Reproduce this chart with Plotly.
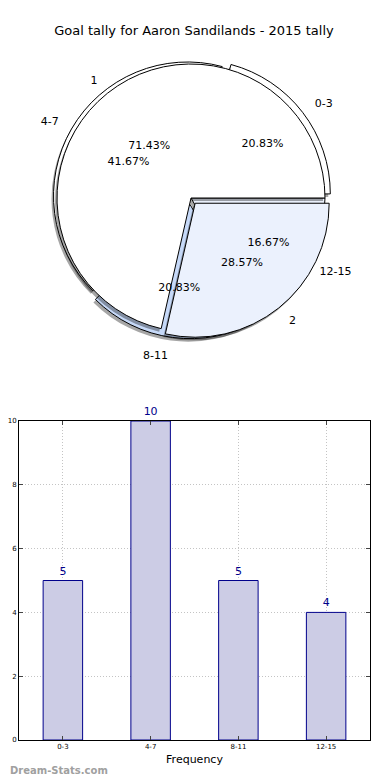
import plotly.graph_objects as go

# Data
intervals = ["0-3", "4-7", "8-11", "12-15"]
interval_counts = [5, 10, 5, 4]
group_labels = ["1", "2"]
group_counts = [5, 2]
bar_categories = ["0-3", "4-7", "8-11", "12-15"]
bar_values = [5, 10, 5, 4]

W, H = 390, 780
FONT = "DejaVu Sans"
OFF = 8  # page body margin

def px_x(x):
    return (x - OFF) / W

def px_y(y):
    return (H - (y - OFF)) / H

# pie geometry (screen px)
cx, cy, R = 191, 198, 134
maxpull = 0.05

def dom(dx=0, dy=0, scale=1.0):
    half = R * scale * (1 + maxpull)
    return dict(x=[px_x(cx + dx - half), px_x(cx + dx + half)],
                y=[px_y(cy + dy + half), px_y(cy + dy - half)])

fig = go.Figure()

# slices laid out counterclockwise from 3 o'clock (matplotlib style):
# reversed order drawn clockwise from 3 o'clock gives the same picture
rev = lambda a: list(a)[::-1]
common = dict(sort=False, direction="clockwise", rotation=90,
              hoverinfo="skip", showlegend=False)

pull_int = [0.05, 0.03, 0.05, 0.0]
pull_grp = [0.0, 0.05]
TF = dict(family=FONT, size=11, color="#000000")
CLEAR = "rgba(0,0,0,0)"
SHADOW = "rgba(0,0,0,0.35)"

# shadows
fig.add_trace(go.Pie(labels=rev(intervals), values=rev(interval_counts),
                     marker=dict(colors=[SHADOW] * 4, line=dict(width=0)),
                     pull=rev(pull_int), textinfo="none", domain=dom(-2, 3), **common))
# outer pie (intervals)
fig.add_trace(go.Pie(labels=rev(intervals), values=rev(interval_counts),
                     marker=dict(colors=rev(["#ffffff", "#ffffff", "#c6d9f8", "#eaf0fc"]),
                                 line=dict(color="#000000", width=1)),
                     pull=rev(pull_int), textinfo="none", domain=dom(), **common))
# shadow of group pie
fig.add_trace(go.Pie(labels=rev(group_labels), values=rev(group_counts),
                     marker=dict(colors=[SHADOW] * 2, line=dict(width=0)),
                     pull=rev(pull_grp), textinfo="none", domain=dom(-2, 3), **common))
# inner pie (groups)
fig.add_trace(go.Pie(labels=rev(group_labels), values=rev(group_counts),
                     marker=dict(colors=rev(["#ffffff", "#ebf1fd"]),
                                 line=dict(color="#000000", width=1)),
                     pull=rev(pull_grp), textinfo="none", domain=dom(), **common))

# text layers (transparent)
for labs, vals, pulls in [(intervals, interval_counts, pull_int), (group_labels, group_counts, pull_grp)]:
    n = len(labs)
    fig.add_trace(go.Pie(labels=rev(labs), values=rev(vals),
                         marker=dict(colors=[CLEAR] * n, line=dict(width=0)),
                         pull=rev(pulls), texttemplate="%{percent:.2%}",
                         textposition="inside", insidetextorientation="horizontal",
                         textfont=TF, domain=dom(), **common))
    fig.add_trace(go.Pie(labels=rev(labs), values=rev(vals),
                         marker=dict(colors=[CLEAR] * n, line=dict(width=0)),
                         pull=rev(pulls), texttemplate="%{label}", textposition="outside",
                         textfont=TF, outsidetextfont=TF, domain=dom(scale=1.08), **common))

# bar chart
fig.add_trace(go.Bar(x=list(range(len(bar_categories))), y=bar_values, width=0.45,
                     marker=dict(color="#ccccE5", line=dict(color="#00008b", width=1)),
                     text=[str(v) for v in bar_values], textposition="outside",
                     textfont=dict(family=FONT, size=11, color="#00008b"),
                     cliponaxis=False, showlegend=False, hoverinfo="skip"))

grid = dict(showgrid=True, gridcolor="#c4c4c4", griddash="1px,2px", gridwidth=1)
fig.update_layout(
    width=W, height=H, margin=dict(l=0, r=0, t=0, b=0),
    paper_bgcolor="white", plot_bgcolor="white",
    font=dict(family=FONT, color="#000000"),
    title=dict(text="Goal tally for Aaron Sandilands - 2015 tally", x=px_x(194), xanchor="center",
               y=px_y(30), yanchor="middle", font=dict(family=FONT, size=13, color="#000000")),
    xaxis=dict(domain=[px_x(19), px_x(370)], range=[-0.5, 3.5], automargin=False,
               tickvals=list(range(len(bar_categories))), ticktext=bar_categories,
               tickfont=dict(size=7), ticks="inside", ticklen=4, mirror="allticks",
               showline=True, linecolor="#000000", linewidth=1, zeroline=False,
               title=dict(text="Frequency", font=dict(size=11), standoff=4), **grid),
    yaxis=dict(domain=[px_y(740), px_y(421)], range=[0, 10], tickvals=[0, 2, 4, 6, 8, 10],
               automargin=False,
               tickfont=dict(size=7), ticks="inside", ticklen=4, mirror="allticks",
               showline=True, linecolor="#000000", linewidth=1, zeroline=False, **grid),
    annotations=[
        dict(text="Goal Interval", xref="paper", yref="paper", x=px_x(-2), y=px_y(581),
             xanchor="center", yanchor="middle", textangle=-90, showarrow=False,
             font=dict(family=FONT, size=9, color="#000000")),
        dict(text="<b>Dream-Stats.com</b>", xref="paper", yref="paper", x=px_x(8), y=px_y(770),
             xanchor="left", yanchor="middle", showarrow=False,
             font=dict(family=FONT, size=10, color="#a0a0a0")),
    ],
)

fig.write_html("out.html")
